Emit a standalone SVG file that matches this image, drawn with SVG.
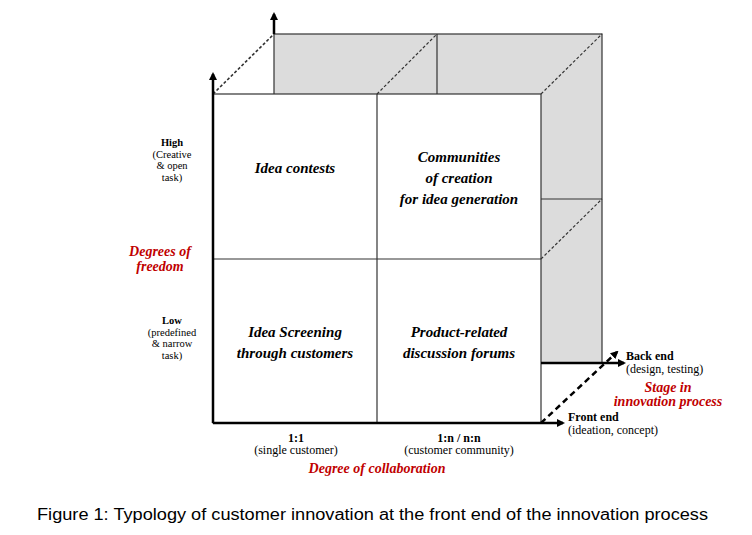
<svg xmlns="http://www.w3.org/2000/svg" width="752" height="535" viewBox="0 0 752 535">
<style>
.l{stroke:#333;stroke-width:1.2}
.d{stroke:#333;stroke-width:1.2;stroke-dasharray:3,2;fill:none}
.ax{stroke:#000;stroke-width:2.5;fill:none}
text{font-family:'Liberation Serif','Times New Roman','DejaVu Serif',serif}
.c{font-style:italic;font-weight:bold;font-size:15px;text-anchor:middle;fill:#000}
.s{font-size:10.5px;text-anchor:middle;fill:#000}
.st{font-size:12px;fill:#000}
.b{font-weight:bold}
.r{font-style:italic;font-weight:bold;font-size:14px;fill:#c00000;text-anchor:middle}
</style>
<defs><marker id="a" markerWidth="8" markerHeight="8" refX="6" refY="4" orient="auto" markerUnits="userSpaceOnUse"><path d="M0,0 L8,4 L0,8 Z" fill="#000"/></marker></defs>
<rect width="752" height="535" fill="#fff"/>
<g id="cube">
<rect x="274" y="34" width="328" height="329" style="fill:#dcdcdc" class="l"/>
<line x1="437" y1="34" x2="437" y2="94" class="l"/>
<line x1="541" y1="199" x2="602" y2="199" class="l"/>
<rect x="213" y="94" width="328" height="329" style="fill:#fff" class="l"/>
<line x1="377" y1="94" x2="377" y2="423" class="l"/>
<line x1="213" y1="259" x2="541" y2="259" class="l"/>
</g>
<g id="connectors">
<line x1="213" y1="94" x2="274" y2="34" class="d" style="stroke-width:1.6"/>
<line x1="377" y1="94" x2="437" y2="34" class="d"/>
<line x1="541" y1="94" x2="602" y2="34" class="d"/>
<line x1="541" y1="259" x2="602" y2="199" class="d"/>
<line x1="541" y1="423" x2="617" y2="352" stroke="#000" stroke-width="2.5" stroke-dasharray="6,4" marker-end="url(#a)"/>
<line x1="213" y1="423" x2="213" y2="74" class="ax" marker-end="url(#a)"/>
<line x1="274" y1="34" x2="274" y2="14" class="ax" marker-end="url(#a)"/>
<line x1="213" y1="423" x2="563" y2="423" class="ax" marker-end="url(#a)"/>
<line x1="541" y1="363" x2="624" y2="363" class="ax" marker-end="url(#a)"/>
</g>
<g id="cells">
<text x="295" y="173" class="c">Idea contests</text>
<text x="459" y="162" class="c">Communities</text>
<text x="459" y="183" class="c">of creation</text>
<text x="459" y="204" class="c">for idea generation</text>
<text x="295" y="337" class="c">Idea Screening</text>
<text x="295" y="358" class="c">through customers</text>
<text x="459" y="337" class="c">Product-related</text>
<text x="459" y="358" class="c">discussion forums</text>
</g>
<g id="labels">
<text x="172" y="146" class="s"><tspan class="b">High</tspan><tspan x="172" dy="11.5">(Creative</tspan><tspan x="172" dy="11.5">&amp; open</tspan><tspan x="172" dy="11.5">task)</tspan></text>
<text x="160" y="256" class="r">Degrees of</text>
<text x="160" y="271" class="r">freedom</text>
<text x="172" y="324" class="s"><tspan class="b">Low</tspan><tspan x="172" dy="11.5">(predefined</tspan><tspan x="172" dy="11.5">&amp; narrow</tspan><tspan x="172" dy="11.5">task)</tspan></text>
<text x="296" y="442" class="st b" text-anchor="middle">1:1</text>
<text x="296" y="454" class="st" text-anchor="middle">(single customer)</text>
<text x="459" y="442" class="st b" text-anchor="middle">1:n / n:n</text>
<text x="459" y="454" class="st" text-anchor="middle">(customer community)</text>
<text x="377" y="473" class="r">Degree of collaboration</text>
<text x="626" y="360" class="st b">Back end</text>
<text x="626" y="373" class="st">(design, testing)</text>
<text x="668" y="392" class="r">Stage in</text>
<text x="668" y="406" class="r">innovation process</text>
<text x="568" y="421" class="st b">Front end</text>
<text x="568" y="434" class="st">(ideation, concept)</text>
<text x="37" y="520" style="font-family:'Liberation Sans',sans-serif" font-size="16" textLength="671" lengthAdjust="spacingAndGlyphs">Figure 1: Typology of customer innovation at the front end of the innovation process</text>
</g>
</svg>
